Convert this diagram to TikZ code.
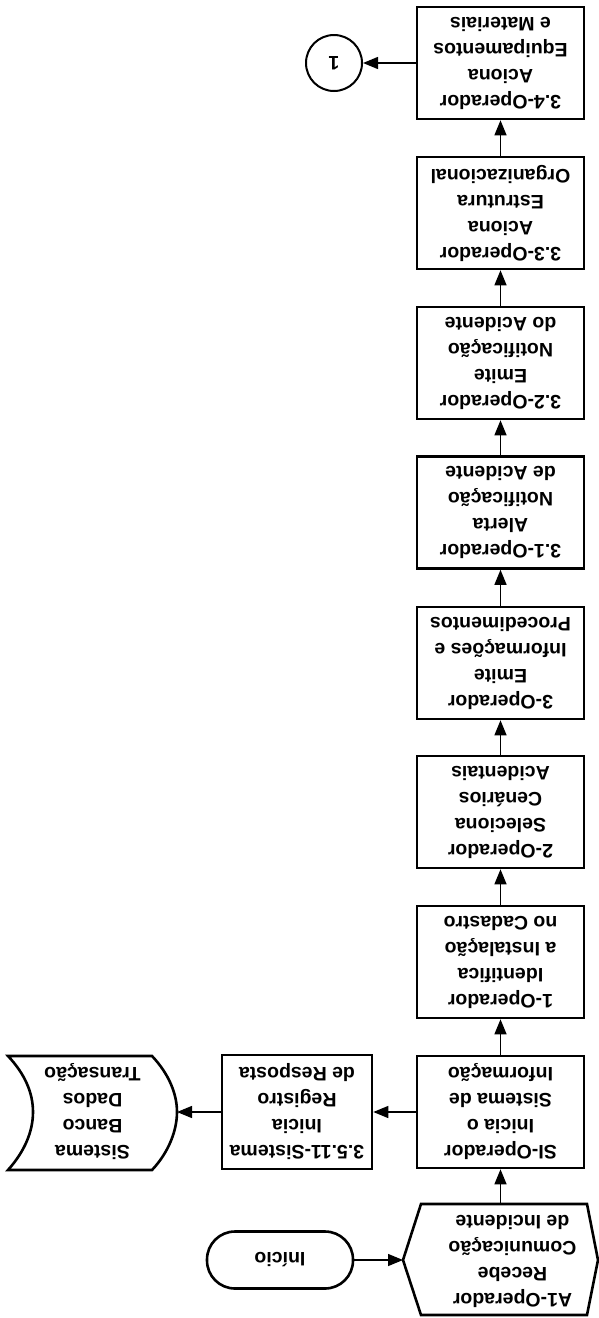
\documentclass[tikz,border=0pt]{standalone}
\usepackage{fontspec}
\setmainfont{Liberation Sans}
\usetikzlibrary{arrows.meta}
\begin{document}
\begin{tikzpicture}[x=1pt,y=1pt,
  txtbase/.style={font=\bfseries\fontsize{19.5}{26}\selectfont, rotate=180},
  txt/.style={txtbase, align=center},
  box/.style={txt, draw, line width=2.6pt, minimum width=167pt, minimum height=112pt, inner sep=0pt},
  conn/.style={line width=1.4pt, -{Triangle[length=15pt,width=12pt]}},
  shapeline/.style={line width=2.6pt, line join=miter}]
\useasboundingbox (0,0) rectangle (599,-1318);

% main column
\node[box] (b34) at (500.5,-63)   {3.4-Operador\\Aciona\\Equipamentos\\e Materiais};
\node[box] (b33) at (500.5,-213)  {3.3-Operador\\Aciona\\Estrutura\\Organizacional};
\node[box] (b32) at (500.5,-363)  {3.2-Operador\\Emite\\Notificação\\do Acidente};
\node[box] (b31) at (500.5,-512.5){3.1-Operador\\Alerta\\Notificação\\de Acidente};
\node[box] (b3)  at (500.5,-663)  {3-Operador\\Emite\\Informações e\\Procedimentos};
\node[box] (b2)  at (500.5,-812)  {2-Operador\\Seleciona\\Cenários\\Acidentais};
\node[box] (b1)  at (500.5,-962)  {1-Operador\\Identifica\\a Instalação\\no Cadastro};
\node[box] (si)  at (500.5,-1112) {SI-Operador\\Inicia o\\Sistema de\\Informação};

% side boxes
\node[box, minimum width=150pt, minimum height=114pt] (r3511) at (297,-1112) {3.5.11-Sistema\\Inicia\\Registro\\de Resposta};

% stored data shape
\draw[shapeline] (8,-1056) -- (152,-1056)
  .. controls (169,-1074) and (177,-1094) .. (177,-1112)
  .. controls (177,-1130) and (169,-1152) .. (152,-1170)
  -- (8,-1170)
  .. controls (25,-1151) and (33,-1131) .. (33,-1112)
  .. controls (33,-1093) and (25,-1074) .. (8,-1056) -- cycle;
\node[txt, minimum width=169pt, minimum height=114pt, inner sep=0pt, outer sep=0pt] (db) at (92.5,-1112) {Sistema\\Banco\\Dados\\Transação};

% connector circle
\node[txtbase, circle, draw, line width=2pt, minimum size=56pt, inner sep=0pt] (c1) at (334,-63) {1};

% terminal
\node[txt, draw, line width=2.6pt, rounded corners=28pt, minimum width=146pt, minimum height=57pt, inner sep=0pt] (inicio) at (280,-1260) {Início};

% hexagon
\draw[shapeline] (403,-1260) -- (421,-1204) -- (587,-1204) -- (598,-1260) -- (587,-1315) -- (421,-1315) -- cycle;
\node[txtbase, minimum width=195pt, minimum height=111pt, inner sep=0pt, outer sep=0pt] (a1) at (500.5,-1260)
  {\begin{tabular}{@{}c@{}}A1-Operador\\Recebe\\Comunicação\\de Incidente\end{tabular}\hspace*{24pt}};

% connectors
\draw[conn] (inicio) -- (a1);
\draw[conn] (a1) -- (si);
\draw[conn] (si) -- (b1);
\draw[conn] (b1) -- (b2);
\draw[conn] (b2) -- (b3);
\draw[conn] (b3) -- (b31);
\draw[conn] (b31) -- (b32);
\draw[conn] (b32) -- (b33);
\draw[conn] (b33) -- (b34);
\draw[conn] (b34) -- (c1);
\draw[conn] (si) -- (r3511);
\draw[conn] (r3511) -- (db);
\end{tikzpicture}
\end{document}
